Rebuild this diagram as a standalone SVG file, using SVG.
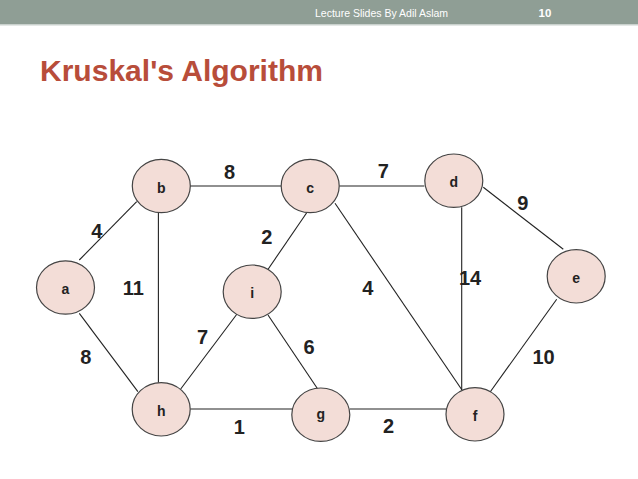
<svg xmlns="http://www.w3.org/2000/svg" width="638" height="479" viewBox="0 0 638 479">
<style>
.node ellipse{fill:#f3ddd7;stroke:#444;stroke-width:1.2}
.node text{font-family:"Liberation Sans",Arial,sans-serif;font-weight:bold;font-size:14px;fill:#222;text-anchor:middle}
#edges line{stroke:#222;stroke-width:1.1}
.w{font-family:"Liberation Sans",Arial,sans-serif;font-weight:bold;font-size:20px;fill:#222;text-anchor:middle}
</style>
<rect x="0" y="0" width="638" height="479" fill="#ffffff"/>
<rect x="0" y="0" width="638" height="24" fill="#8f9e95"/>
<rect x="0" y="24" width="638" height="1.5" fill="#c9d1cd"/>
<text x="315" y="17" font-family="'Liberation Sans',Arial,sans-serif" font-size="10.5" fill="#ffffff">Lecture Slides By Adil Aslam</text>
<text x="545" y="17" font-family="'Liberation Sans',Arial,sans-serif" font-size="11.5" font-weight="bold" fill="#ffffff" text-anchor="middle">10</text>
<text x="40" y="81" font-family="'Liberation Sans',Arial,sans-serif" font-size="30" font-weight="bold" fill="#b84d3a" textLength="283" lengthAdjust="spacingAndGlyphs">Kruskal's Algorithm</text>
<g id="edges">
<line x1="79.3" y1="260" x2="136.7" y2="201.7"/>
<line x1="190" y1="186" x2="281" y2="186"/>
<line x1="158.4" y1="213" x2="158.4" y2="382.7"/>
<line x1="306.7" y1="212.7" x2="265.7" y2="272.7"/>
<line x1="339.3" y1="186" x2="424.3" y2="186"/>
<line x1="335" y1="203.3" x2="462" y2="390"/>
<line x1="461.7" y1="207.3" x2="461.7" y2="390"/>
<line x1="483.3" y1="187.3" x2="563.3" y2="249.3"/>
<line x1="556.7" y1="299.3" x2="489.6" y2="392.7"/>
<line x1="79.3" y1="313.3" x2="137.9" y2="391.7"/>
<line x1="180.7" y1="389" x2="237" y2="314"/>
<line x1="268" y1="315" x2="317.7" y2="389"/>
<line x1="190.3" y1="409" x2="292.5" y2="409"/>
<line x1="349.9" y1="409" x2="446" y2="409"/>
</g>
<g id="node-a" class="node"><ellipse cx="65.5" cy="287.5" rx="29" ry="26.7"/><text x="65.5" y="294">a</text></g>
<g id="node-b" class="node"><ellipse cx="161.3" cy="186" rx="29" ry="26.7"/><text x="161.3" y="192.5">b</text></g>
<g id="node-c" class="node"><ellipse cx="310.2" cy="186" rx="29" ry="26.7"/><text x="310.2" y="192.5">c</text></g>
<g id="node-d" class="node"><ellipse cx="453.8" cy="180.7" rx="29" ry="26.7"/><text x="453.8" y="187">d</text></g>
<g id="node-e" class="node"><ellipse cx="576.2" cy="276.3" rx="29" ry="26.7"/><text x="576.2" y="282.5">e</text></g>
<g id="node-i" class="node"><ellipse cx="252.2" cy="291.7" rx="29" ry="26.7"/><text x="252.2" y="298">i</text></g>
<g id="node-h" class="node"><ellipse cx="161.2" cy="409.3" rx="29" ry="26.7"/><text x="161.2" y="415.5">h</text></g>
<g id="node-g" class="node"><ellipse cx="320.8" cy="414.7" rx="29" ry="26.7"/><text x="320.8" y="419">g</text></g>
<g id="node-f" class="node"><ellipse cx="475" cy="414.3" rx="29" ry="26.7"/><text x="475" y="420.5">f</text></g>
<g id="weights">
<text class="w" x="229.5" y="179">8</text>
<text class="w" x="96.7" y="237.5">4</text>
<text class="w" x="133.3" y="295">11</text>
<text class="w" x="266.7" y="243.5">2</text>
<text class="w" x="383.3" y="178">7</text>
<text class="w" x="522.7" y="210">9</text>
<text class="w" x="367.7" y="295">4</text>
<text class="w" x="470" y="285">14</text>
<text class="w" x="85.8" y="364">8</text>
<text class="w" x="202.5" y="343.5">7</text>
<text class="w" x="309" y="354">6</text>
<text class="w" x="543.5" y="364">10</text>
<text class="w" x="239.3" y="434">1</text>
<text class="w" x="388.5" y="433">2</text>
</g>
</svg>
